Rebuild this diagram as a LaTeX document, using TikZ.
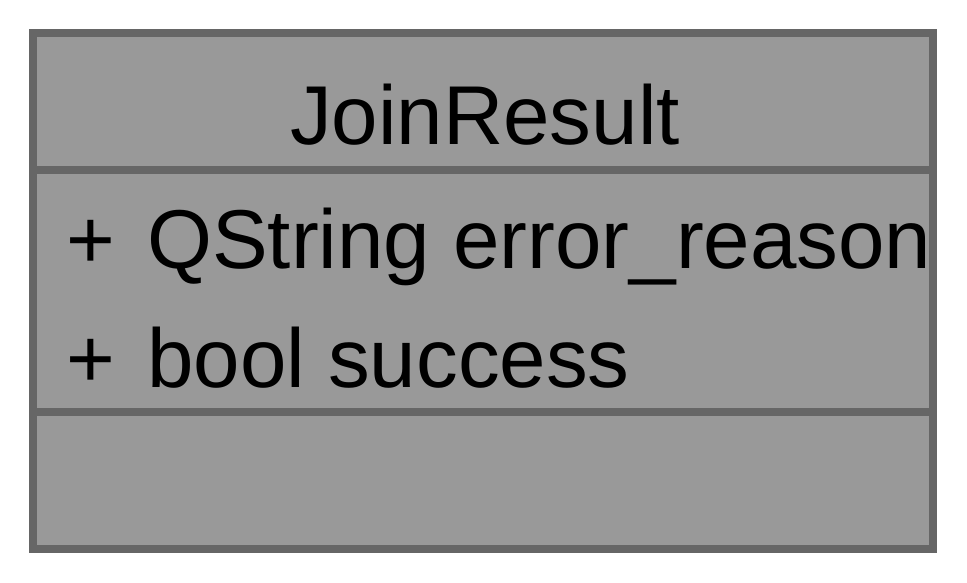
\documentclass[tikz,border=0pt]{standalone}
\usepackage{fontspec}
\setmainfont{Liberation Sans}
\usetikzlibrary{positioning}

\definecolor{boxfill}{HTML}{999999}
\definecolor{boxline}{HTML}{666666}

\tikzset{
    classbox/.style={draw=boxline, fill=boxfill, line width=8pt, inner sep=0pt},
    divider/.style={draw=boxline, line width=8pt},
    member/.style={anchor=base west, inner sep=0pt, font=\fontsize{83.5}{100}\selectfont},
    title/.style={anchor=base, inner sep=0pt, font=\fontsize{83.5}{100}\selectfont}
}

\begin{document}
\begin{tikzpicture}[x=1pt, y=1pt]
            \useasboundingbox (0,0) rectangle (967,-583);

            \node[classbox, minimum width=900pt, minimum height=516pt] (box) at (483,-291) {};

            \coordinate (d1) at (0,-170);
            \coordinate (d2) at (0,-412);
            \draw[divider] (box.west |- d1) -- (box.east |- d1);
            \draw[divider] (box.west |- d2) -- (box.east |- d2);

            \node[title] (name) at (485,-145) {JoinResult};

            \node[member] (plus1) at (66,-268) {+};
            \node[member] (attr1) at (147,-268) {QString error\_reason};
            \node[member] (plus2) at (66,-387) {+};
            \node[member] (attr2) at (147,-387) {bool success};
        \end{tikzpicture}
\end{document}
